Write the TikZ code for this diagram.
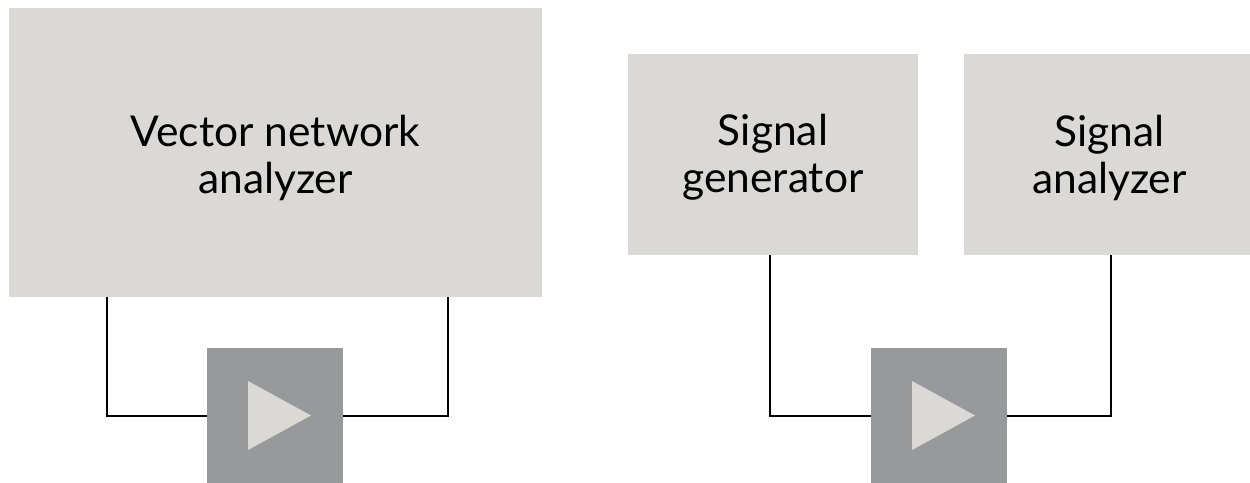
\documentclass[tikz,border=0pt]{standalone}
\usepackage{fontspec}
\setmainfont{Lato}
\definecolor{boxgray}{HTML}{DAD9D5}
\definecolor{ampgray}{HTML}{98999B}
\begin{document}
\begin{tikzpicture}[x=1pt,y=-1pt,
	instr/.style={fill=boxgray,inner sep=0pt},
	caption/.style={align=center,inner sep=0pt,font=\fontsize{42.5}{47}\selectfont\color{black}},
	amp/.style={fill=ampgray,minimum width=136pt,minimum height=135pt,inner sep=0pt},
	wire/.style={black,line width=2pt}]
	\useasboundingbox (0,0) rectangle (1250,482);
	% instruments
	\node [instr,minimum width=533pt,minimum height=289pt] (vna) at (275.5,152.5) {};
	\node [instr,minimum width=290pt,minimum height=201pt] (gen) at (773,154.5) {};
	\node [instr,minimum width=291pt,minimum height=201pt] (sa) at (1109.5,154.5) {};
	\node [caption,yshift=-5pt] (vnatext) at (vna) {Vector network\\analyzer};
	\node [caption,yshift=-3pt] (gentext) at (gen) {Signal\\generator};
	\node [caption,yshift=-3pt] (satext) at (sa) {Signal\\analyzer};
	% amplifiers
	\node [amp] (ampa) at (275,415.5) {};
	\node [amp] (ampb) at (939,415.5) {};
	\fill [boxgray] (248,381) -- (311,415.5) -- (248,450) -- cycle;
	\fill [boxgray] (912,381) -- (975,415.5) -- (912,450) -- cycle;
	% wiring
	\coordinate (a1) at (106.5,415.5);
	\coordinate (a2) at (448,415.5);
	\coordinate (b1) at (770,415.5);
	\coordinate (b2) at (1111,415.5);
	\draw [wire] (a1 |- vna.south) -- (a1) -- (ampa.west);
	\draw [wire] (a2 |- vna.south) -- (a2) -- (ampa.east);
	\draw [wire] (b1 |- gen.south) -- (b1) -- (ampb.west);
	\draw [wire] (b2 |- sa.south) -- (b2) -- (ampb.east);
\end{tikzpicture}
\end{document}
